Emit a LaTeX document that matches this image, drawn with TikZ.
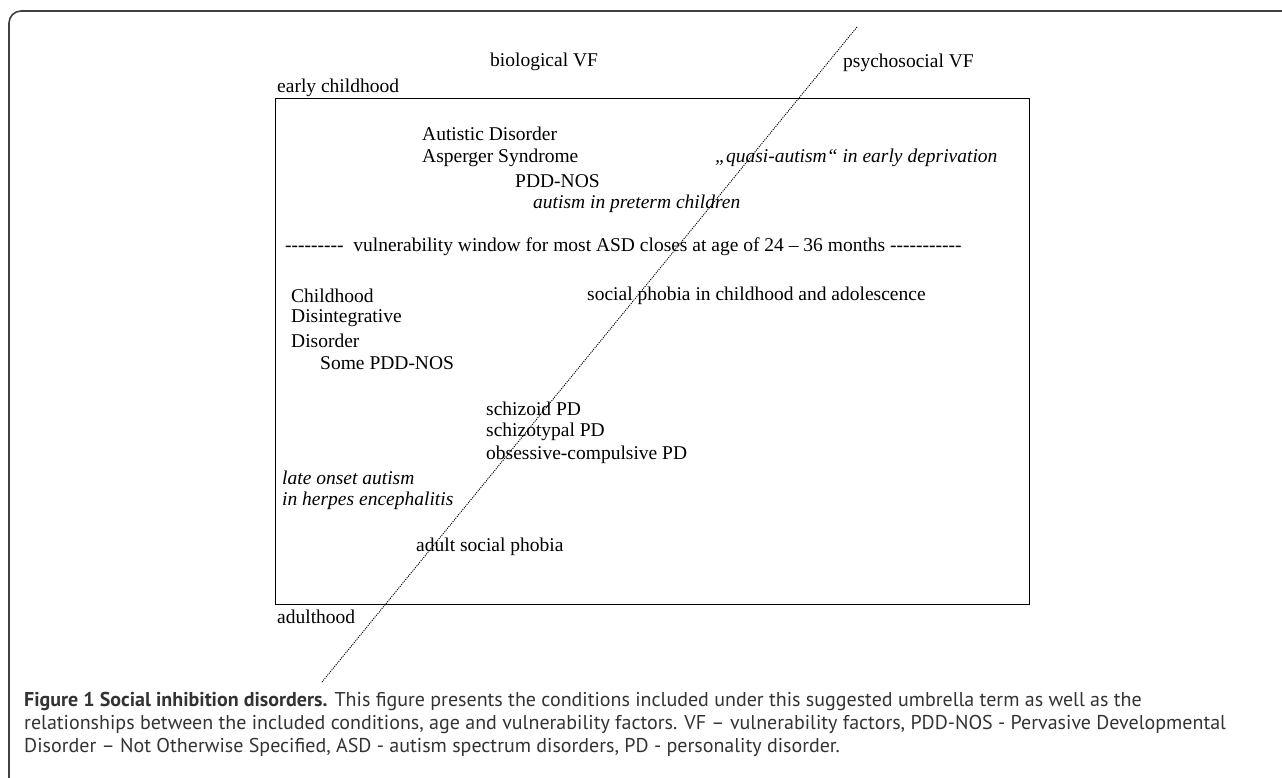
\documentclass[tikz,border=0pt]{standalone}
\usepackage{fontspec}
\setmainfont{Liberation Serif}
\newfontfamily\capfont{PT Sans}
\usepackage{tikz}

\begin{document}
\begin{tikzpicture}[
    x=1pt, y=-1pt,
    every node/.style={inner sep=0pt, anchor=west, font=\fontsize{19.5}{23}\selectfont},
    vf/.style={font=\fontsize{19.5}{23}\selectfont\itshape},
    captext/.style={font=\capfont\fontsize{20}{23}\selectfont, text=black!80, align=left}
  ]
    \useasboundingbox (0,0) rectangle (1282,778);
    % outer frame
    \draw[line width=1.6pt, black!75] (9,778) -- (9,23) arc[start angle=180, end angle=270, radius=12] -- (1282,11);
    % age box
    \draw[line width=0.8pt] (275,98) rectangle (1029,604);
    \node (early) at (277,88) {early childhood};
    \node (adult) at (277,617) {adulthood};
    \node (bio) at (490,62) {biological VF};
    \node (psy) at (843,63) {psychosocial VF};
    \node (autd) at (422,134) {Autistic Disorder};
    \node (asp) at (422,158) {Asperger Syndrome};
    \node (pdd) at (515,181) {PDD-NOS};
    \node[vf] (pret) at (533,204) {autism in preterm children};
    \node[vf] (quasi) at (715,158) {„quasi-autism“ in early deprivation};
    \node (window) at (285,247) {-{}-{}-{}-{}-{}-{}-{}-{}-\ \ vulnerability window for most ASD closes at age of 24 – 36 months -{}-{}-{}-{}-{}-{}-{}-{}-{}-{}-};
    \node (cdd1) at (291,296) {Childhood};
    \node (cdd2) at (291,318) {Disintegrative};
    \node (cdd3) at (291,341) {Disorder};
    \node (somepdd) at (320,363) {Some PDD-NOS};
    \node (sphob) at (587,296) {social phobia in childhood and adolescence};
    \node (szd) at (486,409) {schizoid PD};
    \node (szt) at (486,432) {schizotypal PD};
    \node (ocpd) at (486,455) {obsessive-compulsive PD};
    \node[vf] (late1) at (282,478) {late onset autism};
    \node[vf] (late2) at (282,501) {in herpes encephalitis};
    \node (asph) at (416,547) {adult social phobia};
    % biological / psychosocial divide
    \coordinate (divtop) at (857,27);
    \coordinate (divbot) at (322,682);
    \draw[line width=0.9pt, dash pattern=on 1.1pt off 1.1pt] (divtop) -- (divbot);
    % caption
    \node[captext] (caption) at (24,724) {\textbf{Figure 1 Social inhibition disorders.} This figure presents the conditions included under this suggested umbrella term as well as the\\
      relationships between the included conditions, age and vulnerability factors. VF – vulnerability factors, PDD-NOS - Pervasive Developmental\\
      Disorder – Not Otherwise Specified, ASD - autism spectrum disorders, PD - personality disorder.};
\end{tikzpicture}
\end{document}
